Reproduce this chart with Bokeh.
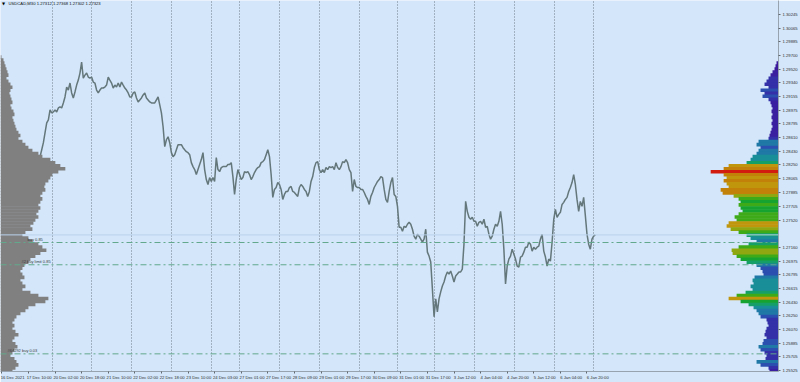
from bokeh.plotting import figure
from bokeh.models import (Range1d, LinearAxis, FixedTicker, Grid, Span, Label,
                          LinearColorMapper, ColumnDataSource, PrintfTickFormatter)
from bokeh.embed import file_html
from bokeh.resources import INLINE

BG = "#D3E6FA"
FONT = "Liberation Sans"

# ---------------- data ----------------
header = "USDCAD,M30  1.27312 1.27368 1.27302 1.27323"
last_price = 1.27323

# M30 closes, bar 0 = 17 Dec 10:00
close = [
 1.28215, 1.28255, 1.28189, 1.28255, 1.28294, 1.28281,
 1.28321, 1.28360, 1.28452, 1.28545, 1.28677, 1.28808, 1.28848, 1.28980, 1.28940, 1.28953,
 1.28980, 1.28953, 1.29006, 1.29019, 1.29006, 1.29072, 1.29151, 1.29283, 1.29243, 1.29336,
 1.29204, 1.29138, 1.29217, 1.29309, 1.29375, 1.29468, 1.29613, 1.29402, 1.29441, 1.29468,
 1.29415, 1.29402, 1.29415, 1.29349, 1.29336, 1.29243, 1.29204, 1.29243, 1.29270, 1.29270,
 1.29283, 1.29309, 1.29415, 1.29375, 1.29336, 1.29270, 1.29309, 1.29283, 1.29336, 1.29283,
 1.29349, 1.29309, 1.29270, 1.29243, 1.29204, 1.29151, 1.29151, 1.29204, 1.29217, 1.29138,
 1.29085, 1.29112, 1.29138, 1.29178, 1.29204, 1.29138, 1.29112, 1.29085, 1.29072, 1.29072,
 1.29072, 1.29112, 1.29151, 1.29046, 1.28940, 1.28756, 1.28492, 1.28584, 1.28624, 1.28545,
 1.28413, 1.28360, 1.28386, 1.28452, 1.28518, 1.28518, 1.28518, 1.28479, 1.28452, 1.28426,
 1.28413, 1.28386, 1.28281, 1.28228, 1.28189, 1.28123, 1.28189, 1.28255, 1.28321, 1.28413,
 1.28189, 1.28057, 1.27991, 1.28083, 1.28031, 1.28083, 1.28031, 1.28347, 1.28189, 1.28162,
 1.28215, 1.28228, 1.28228, 1.28228, 1.28255, 1.28255, 1.28281, 1.28096, 1.27859, 1.28057,
 1.28189, 1.28123, 1.28057, 1.28083, 1.28162, 1.28149, 1.28162, 1.28123, 1.28057, 1.28096,
 1.28149, 1.28189, 1.28215, 1.28228, 1.28281, 1.28294, 1.28321, 1.28386, 1.28452, 1.28360,
 1.28123, 1.27820, 1.27925, 1.27951, 1.28017, 1.27991, 1.27925, 1.27793, 1.27859, 1.27899,
 1.27899, 1.27951, 1.27965, 1.27899, 1.27885, 1.27859, 1.27833, 1.27951, 1.27991, 1.27965,
 1.27925, 1.27899, 1.27833, 1.27899, 1.28031, 1.28096, 1.28215, 1.28281, 1.28294, 1.28189,
 1.28149, 1.28189, 1.28149, 1.28215, 1.28189, 1.28228, 1.28215, 1.28228, 1.28189, 1.28281,
 1.28215, 1.28189, 1.28228, 1.28294, 1.28281, 1.28321, 1.28281, 1.28189, 1.28149, 1.27899,
 1.28057, 1.27965, 1.27951, 1.27951, 1.27925, 1.27925, 1.27885, 1.27833, 1.27793, 1.27727,
 1.27833, 1.27885, 1.27951, 1.27991, 1.28031, 1.28057, 1.28096, 1.28083, 1.27925, 1.27793,
 1.27754, 1.27899, 1.28017, 1.28083, 1.27859, 1.27833, 1.27701, 1.27424, 1.27424, 1.27371,
 1.27437, 1.27424, 1.27464, 1.27490, 1.27464, 1.27398, 1.27305, 1.27266, 1.27332, 1.27305,
 1.27266, 1.27226, 1.27266, 1.27398, 1.27094, 1.27042, 1.26963, 1.26607, 1.26237, 1.26475,
 1.26303, 1.26475, 1.26567, 1.26646, 1.26699, 1.26778, 1.26831, 1.26804, 1.26844, 1.26778,
 1.26699, 1.26778, 1.26804, 1.26831, 1.26831, 1.26870, 1.27200, 1.27767, 1.27635, 1.27556,
 1.27530, 1.27556, 1.27503, 1.27503, 1.27437, 1.27490, 1.27503, 1.27464, 1.27530, 1.27424,
 1.27437, 1.27332, 1.27266, 1.27305, 1.27398, 1.27464, 1.27437, 1.27503, 1.27635, 1.27464,
 1.27134, 1.26673, 1.26910, 1.27002, 1.27042, 1.27134, 1.27068, 1.27002, 1.26910, 1.26897,
 1.27029, 1.27042, 1.27094, 1.27160, 1.27160, 1.27226, 1.27200, 1.27108, 1.27160, 1.27134,
 1.27160, 1.27174, 1.27266, 1.27332, 1.27108, 1.27029, 1.26910, 1.27002, 1.26976, 1.27226,
 1.27530, 1.27661, 1.27556, 1.27595, 1.27622, 1.27727, 1.27754, 1.27793, 1.27820, 1.27899,
 1.27951, 1.28017, 1.28123, 1.27991, 1.27793, 1.27635, 1.27767, 1.27701, 1.27820, 1.27582,
 1.27332, 1.27200, 1.27134, 1.27266, 1.27305, 1.27323,
]
bars = list(range(len(close)))

date_tick_bars = [-16, 0, 16, 32, 48, 64, 80, 96, 112, 128, 144, 160, 176, 192,
                  208, 224, 240, 256, 272, 288, 304, 320, 336]
date_tick_labels = ["16 Dec 2021", "17 Dec 10:00", "20 Dec 02:00", "20 Dec 18:00",
                    "21 Dec 10:00", "22 Dec 02:00", "22 Dec 18:00", "23 Dec 10:00",
                    "24 Dec 03:00", "27 Dec 01:00", "27 Dec 17:00", "28 Dec 09:00",
                    "29 Dec 01:00", "29 Dec 17:00", "30 Dec 09:00", "31 Dec 01:00",
                    "31 Dec 17:00", "3 Jan 12:00", "4 Jan 04:00", "4 Jan 20:00",
                    "5 Jan 12:00", "6 Jan 04:00", "6 Jan 20:00"]
grid_bars = [14.2, 37.8, 62.2, 86.2, 110.2, 127.2, 151.2, 175.2, 199.2, 222.2,
             244.2, 268.2, 292.2, 316.2, 340.2]

price_ticks = [1.30245, 1.30065, 1.29885, 1.29700, 1.29520, 1.29340, 1.29155,
               1.28975, 1.28795, 1.28610, 1.28430, 1.28250, 1.28065, 1.27885,
               1.27705, 1.27520, 1.27160, 1.26975, 1.26795, 1.26615, 1.26430,
               1.26250, 1.26070, 1.25885, 1.25705, 1.25525]

# order lines
order_prices = [1.27222, 1.26927, 1.25746]
order_texts = ["buy 0.85", "#2 buy limit 0.85", "#64292 buy 0.03"]

# volume profiles: price levels (bin centres) and volumes
levels = [1.2968, 1.2964, 1.2960, 1.2956, 1.2952, 1.2948, 1.2944, 1.2940, 1.2936, 1.2932,
          1.2928, 1.2924, 1.2920, 1.2916, 1.2912, 1.2908, 1.2904, 1.2900, 1.2896, 1.2892,
          1.2888, 1.2884, 1.2880, 1.2876, 1.2872, 1.2868, 1.2864, 1.2860, 1.2856, 1.2852,
          1.2848, 1.2844, 1.2840, 1.2836, 1.2832, 1.2828, 1.2824, 1.2820, 1.2816, 1.2812,
          1.2808, 1.2804, 1.2800, 1.2796, 1.2792, 1.2788, 1.2784, 1.2780, 1.2776, 1.2772,
          1.2768, 1.2764, 1.2760, 1.2756, 1.2752, 1.2748, 1.2744, 1.2740, 1.2736, 1.2732,
          1.2728, 1.2724, 1.2720, 1.2716, 1.2712, 1.2708, 1.2704, 1.2700, 1.2696, 1.2692,
          1.2688, 1.2684, 1.2680, 1.2676, 1.2672, 1.2668, 1.2664, 1.2660, 1.2656, 1.2652,
          1.2648, 1.2644, 1.2640, 1.2636, 1.2632, 1.2628, 1.2624, 1.2620, 1.2616, 1.2612,
          1.2608, 1.2604, 1.2600, 1.2596, 1.2592, 1.2588, 1.2584, 1.2580, 1.2576, 1.2572,
          1.2568, 1.2564, 1.2560, 1.2556, 1.2552]
left_vol = [1, 3, 4, 5, 6, 7, 8, 6, 8, 10, 12, 10, 9, 10, 11, 12, 10, 11, 13, 14,
            12, 13, 14, 15, 16, 18, 20, 18, 22, 25, 28, 32, 38, 42, 50, 55, 60, 65, 58, 52,
            50, 48, 45, 44, 45, 42, 40, 42, 40, 38, 40, 38, 36, 38, 35, 33, 30, 32, 25, 22,
            28, 32, 38, 42, 46, 40, 35, 30, 28, 24, 22, 20, 22, 24, 20, 22, 25, 22, 30, 38,
            48, 45, 35, 28, 25, 20, 16, 14, 12, 14, 12, 15, 18, 14, 12, 15, 17, 14, 12, 10,
            14, 16, 18, 15, 12]
right_vol = [0, 0, 2, 3, 4, 6, 8, 10, 12, 14, 10, 18, 14, 16, 10, 8, 7, 6, 7, 6,
             7, 6, 7, 6, 7, 8, 9, 10, 20, 22, 18, 20, 22, 26, 28, 32, 50, 55, 68, 55,
             52, 55, 52, 50, 58, 56, 45, 40, 38, 40, 38, 36, 40, 44, 42, 50, 52, 48, 40, 32,
             28, 22, 30, 40, 47, 46, 42, 38, 32, 22, 18, 16, 15, 24, 26, 25, 28, 26, 33, 42,
             50, 38, 30, 25, 22, 20, 18, 12, 11, 10, 12, 13, 14, 12, 15, 16, 20, 18, 14, 12,
             13, 22, 18, 10, 9]
level_step = 0.0004

profile_palette = ["#3B1A9C", "#3A1FA0", "#3330A8", "#2A4FAF", "#1F78A6", "#198E98",
                   "#16A068", "#17A330", "#3FAA18", "#8FA812", "#BF960C", "#C2820A",
                   "#C86A0A", "#D21C10"]

# ---------------- figure ----------------
p = figure(width=800, height=382, output_backend="svg", toolbar_location=None,
           x_range=Range1d(-16.8, 451.2), y_range=Range1d(1.25512, 1.30430),
           x_axis_location=None, y_axis_location=None,
           min_border_left=0, min_border_top=0, min_border_right=20, min_border_bottom=9,
           background_fill_color=BG, border_fill_color=BG, outline_line_color=None)
p.xgrid.visible = False
p.ygrid.visible = False

p.extra_x_ranges = {"lvol": Range1d(0, 780), "rvol": Range1d(780, 0)}

# axes
yaxis = LinearAxis(ticker=FixedTicker(ticks=price_ticks),
                   formatter=PrintfTickFormatter(format="%.5f"))
yaxis.axis_line_color = "#97A3AE"
yaxis.major_tick_out = 2
yaxis.major_tick_in = 0
yaxis.major_tick_line_color = "#606870"
yaxis.minor_tick_out = 0
yaxis.major_label_standoff = 2
yaxis.major_label_text_font = FONT
yaxis.major_label_text_font_size = "4.2px"
yaxis.major_label_text_color = "#303030"
p.add_layout(yaxis, "right")

shift = 6.5
xaxis = LinearAxis(ticker=FixedTicker(ticks=[b + shift for b in date_tick_bars],
                                      minor_ticks=date_tick_bars))
xaxis.major_label_overrides = {b + shift: t for b, t in zip(date_tick_bars, date_tick_labels)}
xaxis.axis_line_color = "#97A3AE"
xaxis.major_tick_out = 0
xaxis.major_tick_in = 0
xaxis.minor_tick_out = 2
xaxis.minor_tick_in = 0
xaxis.minor_tick_line_color = "#606870"
xaxis.major_label_standoff = 1
xaxis.major_label_text_font = FONT
xaxis.major_label_text_font_size = "4.2px"
xaxis.major_label_text_color = "#303030"
p.add_layout(xaxis, "below")

p.add_layout(Grid(dimension=0, ticker=FixedTicker(ticks=grid_bars),
                  grid_line_color="#6F7C8A", grid_line_dash="1 2", grid_line_width=1))

# current price line and order lines
p.add_layout(Span(location=last_price, dimension="width", line_color="#BBD2EC", line_width=1))
for op in order_prices:
    p.add_layout(Span(location=op, dimension="width", line_color="#62A88C",
                      line_width=1, line_dash="6 3 2 3"))

# price line
p.line(bars, close, line_color="#64777A", line_width=1.5)

# left profile (grey)
lsrc = ColumnDataSource(dict(y=levels, v=left_vol))
p.hbar(y="y", left=0, right="v", height=level_step * 1.2, source=lsrc, x_range_name="lvol",
       fill_color="#808080", line_color=None)

# right profile (coloured by volume)
mapper = LinearColorMapper(palette=profile_palette, low=0, high=70)
rsrc = ColumnDataSource(dict(y=levels, v=right_vol))
p.hbar(y="y", left=0, right="v", height=level_step * 1.2, source=rsrc, x_range_name="rvol",
       fill_color={"field": "v", "transform": mapper}, line_color=None)

# texts
for op, t, xs in zip(order_prices, order_texts, [27, 21, 7]):
    p.add_layout(Label(x=xs, y=op, x_units="screen", y_units="data", text=t,
                       text_font=FONT, text_font_size="4px", text_color="#3A3A3A",
                       text_baseline="bottom", y_offset=1))

p.add_layout(Label(x=8, y=368.5, x_units="screen", y_units="screen", text=header,
                   text_font=FONT, text_font_size="4.2px", text_color="#111111",
                   text_baseline="middle"))
p.add_layout(Label(x=1.5, y=368.5, x_units="screen", y_units="screen", text="\u25BC",
                   text_font="DejaVu Sans", text_font_size="4px", text_color="#000000",
                   text_baseline="middle"))
p.add_layout(Label(x=780.5, y=last_price, x_units="screen", y_units="data",
                   text="1.27323", text_font=FONT, text_font_size="4.2px",
                   text_color="#FFFFFF", text_baseline="middle",
                   background_fill_color="#000000", padding=1))

open("out.html", "w").write(file_html(p, INLINE))
